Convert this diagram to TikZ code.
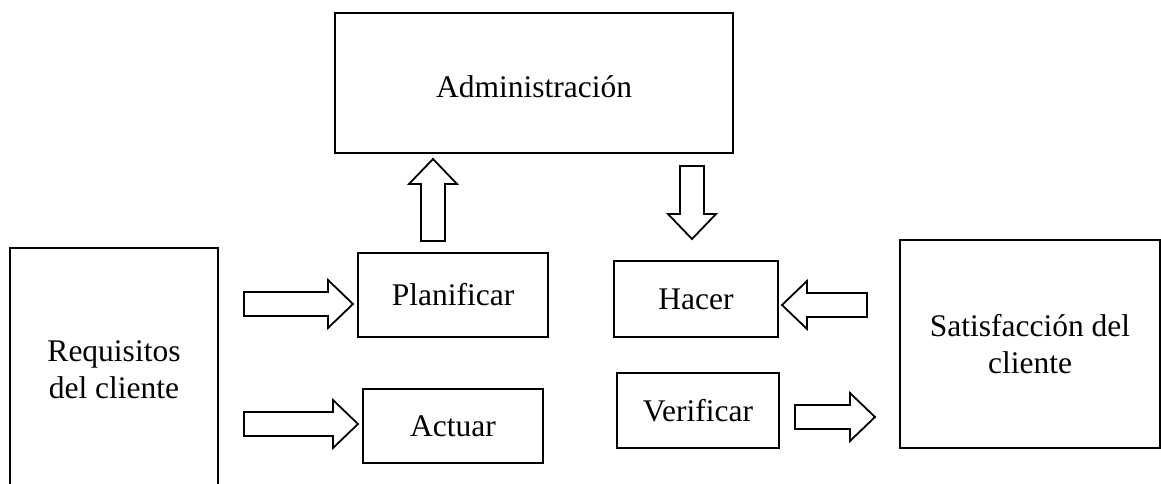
\documentclass[tikz,border=0pt]{standalone}
\usepackage{fontspec}
\setmainfont{Liberation Serif}
\usetikzlibrary{calc}

\begin{document}
\begin{tikzpicture}[x=1pt,y=-1pt,
  box/.style={draw,line width=2pt,align=center,inner sep=0pt,
    font=\fontsize{31.5}{37}\selectfont},
  pics/blockarr/.style={code={
    \draw[line width=1.8pt,line join=miter]
      (0,-12) -- (#1-25,-12) -- (#1-25,-24) -- (#1,0)
      -- (#1-25,24) -- (#1-25,12) -- (0,12) -- cycle;}}]
  \useasboundingbox (0,0) rectangle (1161,484);

  \node[box,minimum width=398,minimum height=140,text height=30] (admin) at (534,83) {Administración};
  \node[box,minimum width=208,minimum height=244] (req) at (114,370) {Requisitos\\del cliente};
  \node[box,minimum width=190,minimum height=84] (plan) at (453,295) {Planificar};
  \node[box,minimum width=180,minimum height=74] (act) at (453,426) {Actuar};
  \node[box,minimum width=164,minimum height=76] (hacer) at (696,299) {Hacer};
  \node[box,minimum width=162,minimum height=75] (verif) at (698,410.5) {Verificar};
  \node[box,minimum width=260,minimum height=208] (sat) at (1030,344) {Satisfacción del\\cliente};

  % hollow block arrows
  \pic at ($(req.east |- plan)+(25,9)$) {blockarr=109};
  \pic at ($(req.east |- act)+(25,-2)$) {blockarr=114};
  \pic[rotate=90] at ($(plan.north)+(-20,-11)$) {blockarr=82};
  \pic[rotate=-90] at ($(admin.south)+(158,12)$) {blockarr=73};
  \pic[rotate=180] at ($(sat.west |- hacer)+(-32,6)$) {blockarr=85};
  \pic at ($(verif.east)+(15,6.5)$) {blockarr=80};
\end{tikzpicture}
\end{document}
